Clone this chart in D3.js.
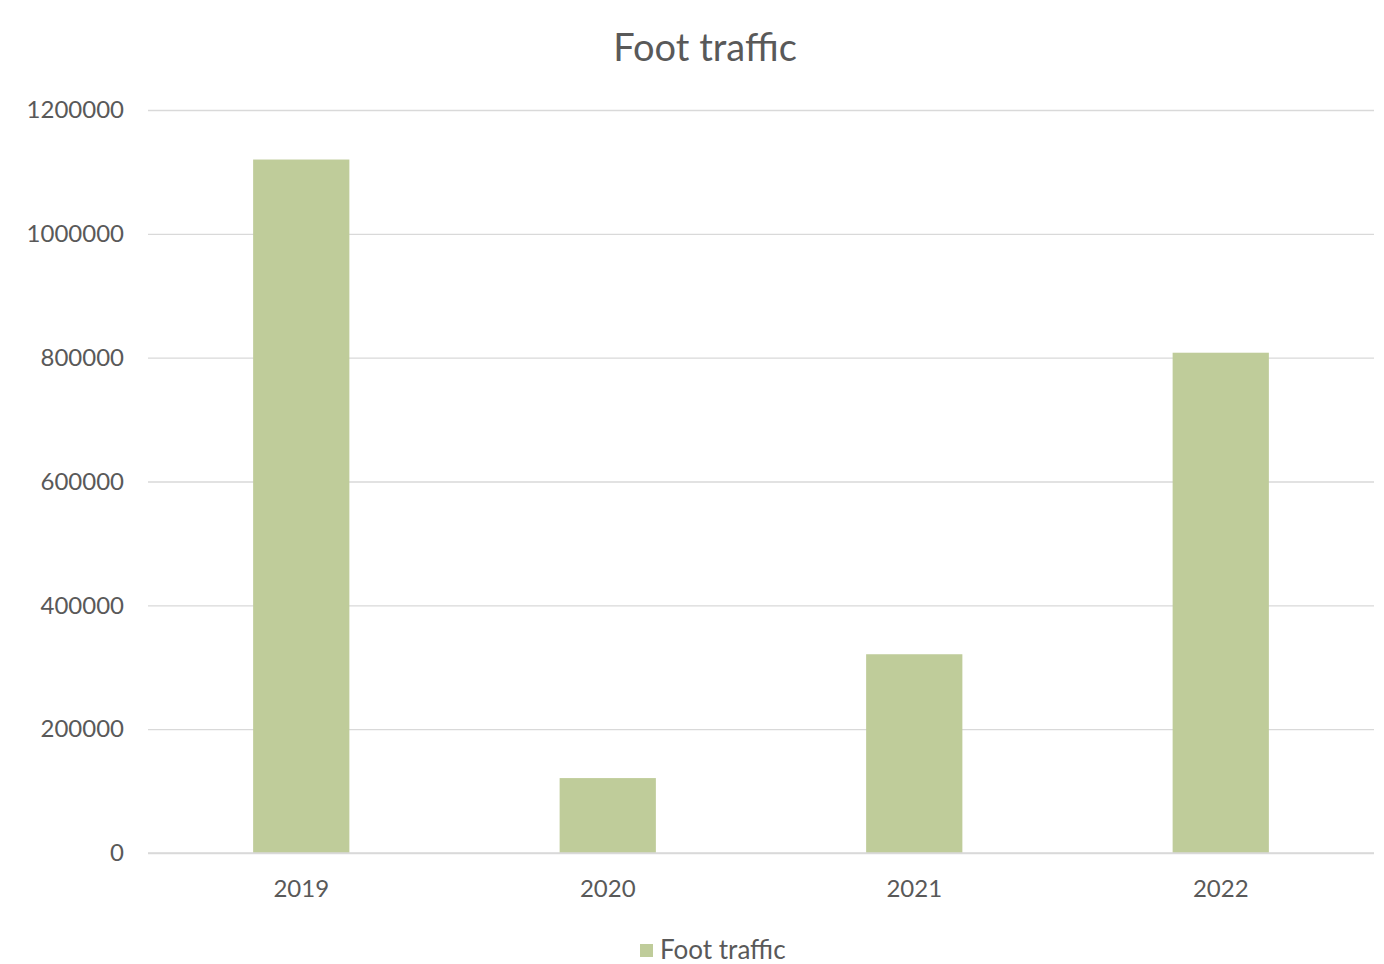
<!DOCTYPE html>
<html>
<head>
<meta charset="utf-8">
<script src="https://cdn.jsdelivr.net/npm/d3@7"></script>
<style>
  html, body { margin: 0; padding: 0; background: #fff; }
  svg { display: block; }
  text { font-family: Lato, "Open Sans", sans-serif; fill: #595959; }
</style>
</head>
<body>
<svg id="chart" width="1384" height="964"></svg>
<script>
// Yearly foot traffic
const years = ["2019", "2020", "2021", "2022"];
const footTraffic = [1120000, 121000, 321000, 808000];
const yTicks = [0, 200000, 400000, 600000, 800000, 1000000, 1200000];
const chartTitle = "Foot traffic";
const seriesName = "Foot traffic";

const svg = d3.select("#chart");
const plot = { left: 148, right: 1374, top: 110, bottom: 853 };
const barColor = "#bfcc9a";
const gridColor = "#d9d9d9";

const x = d3.scaleBand()
  .domain(years)
  .range([plot.left, plot.right])
  .paddingInner(0.686)
  .paddingOuter(0.343);

const y = d3.scaleLinear()
  .domain([0, 1200000])
  .range([plot.bottom, plot.top]);

// Horizontal gridlines + value labels
const yAxis = d3.axisLeft(y)
  .tickValues(yTicks)
  .tickSize(-(plot.right - plot.left))
  .tickPadding(24)
  .tickFormat(d => String(d));

const gy = svg.append("g")
  .attr("transform", `translate(${plot.left},0)`)
  .call(yAxis);
gy.select(".domain").remove();
gy.selectAll(".tick line").attr("stroke", gridColor).attr("stroke-width", 1.3);
gy.selectAll(".tick text")
  .attr("font-size", 24)
  .attr("fill", "#595959")
  .style("font-family", "Lato, 'Open Sans', sans-serif");

// Bars
svg.append("g")
  .selectAll("rect")
  .data(years.map((yr, i) => ({ yr, v: footTraffic[i] })))
  .join("rect")
  .attr("x", d => x(d.yr))
  .attr("y", d => y(d.v))
  .attr("width", x.bandwidth())
  .attr("height", d => y(0) - y(d.v))
  .attr("fill", barColor);

// Category axis
const xAxis = d3.axisBottom(x).tickSize(0).tickPadding(27);
const gx = svg.append("g")
  .attr("transform", `translate(0,${plot.bottom})`)
  .call(xAxis);
gx.select(".domain").attr("stroke", gridColor).attr("stroke-width", 1.3)
  .attr("d", `M${plot.left},0H${plot.right}`);
gx.selectAll(".tick text")
  .attr("font-size", 24)
  .attr("fill", "#595959")
  .style("font-family", "Lato, 'Open Sans', sans-serif");

// Title
svg.append("text")
  .attr("x", 705)
  .attr("y", 61)
  .attr("text-anchor", "middle")
  .attr("font-size", 38)
  .text(chartTitle);

// Legend
const lg = svg.append("g").attr("transform", "translate(640,944)");
lg.append("rect").attr("width", 13).attr("height", 13).attr("fill", barColor);
lg.append("text")
  .attr("x", 20)
  .attr("y", 15)
  .attr("font-size", 26)
  .text(seriesName);
</script>
</body>
</html>
